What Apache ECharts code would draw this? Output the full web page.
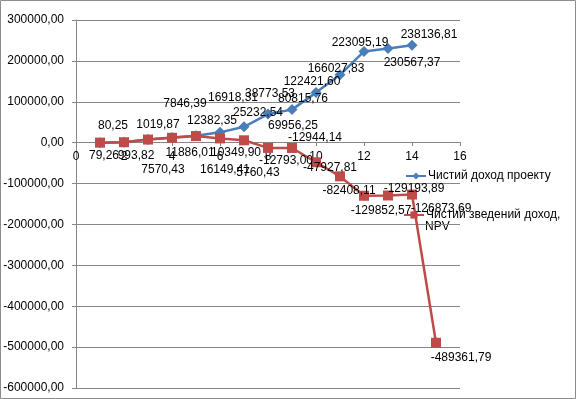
<!DOCTYPE html>
<html>
<head>
<meta charset="utf-8">
<script src="https://cdn.jsdelivr.net/npm/echarts@6/dist/echarts.min.js"></script>
<style>
  html, body { margin: 0; padding: 0; background: #fff; }
  #chart { width: 576px; height: 399px; }
</style>
</head>
<body>
<div id="chart"></div>
<script>
// роки проекту
var years = [1, 2, 3, 4, 5, 6, 7, 8, 9, 10, 11, 12, 13, 14, 15];

// Чистий доход проекту
var incomeValues = [80.25, 1019.87, 7846.39, 12382.35, 16918.31, 25232.54, 38773.53,
    69956.25, 80815.76, 122421.60, 166027.83, 223095.19, 230567.37, 238136.81];

// Чистий зведений доход, NPV
var npvValues = [79.26, 993.82, 7570.43, 11886.01, 16149.41, 10349.90, 5760.43,
    -12793.00, -12944.14, -47927.81, -82408.11, -129852.57, -129193.89, -126873.69, -489361.79];

var incomeName = 'Чистий доход проекту';
var npvName = 'Чистий зведений доход, NPV';

// зсув підписів (як вони стоять на картинці)
var incomeLabelShift = [[13, -17], [34, -18], [37, -36], [40, -17], [37, -38], [38, -20], [26, -33],
    [25, 12], [11, -11], [-4, -11], [-4, -6], [-4, -9], [24, 14], [17, -11]];
var npvLabelShift = [[4, 13], [12, 13], [15, 30], [18, 15], [29, 34], [16, 14], [14, 32],
    [18, 13], [23, -10], [14, 5], [9, 14], [17, 15], [26, -7], [29, 14], [25, 15]];

function fmt(v) {
    return v.toFixed(2).replace('.', ',');
}

function buildData(values, shifts) {
    var out = [];
    for (var i = 0; i < values.length; i++) {
        out.push({
            value: [years[i], values[i]],
            label: { offset: shifts[i] }
        });
    }
    return out;
}

var font = 'Liberation Sans, Arial, sans-serif';
var myChart = echarts.init(document.getElementById('chart'));

var option = {
    animation: false,
    backgroundColor: '#fff',
    grid: [
        { left: 76, right: 116, top: 20, bottom: 11 },
        // друга сітка тільки для осі X, що йде через нуль
        { left: 76, right: 116, top: 20, height: 122 }
    ],
    xAxis: [
        {
            type: 'value', gridIndex: 0, min: 0, max: 16, interval: 2,
            axisLine: { show: false }, axisTick: { show: false },
            axisLabel: { show: false }, splitLine: { show: false }
        },
        {
            type: 'value', gridIndex: 1, min: 0, max: 16, interval: 2,
            axisLine: { show: true, onZero: false, lineStyle: { color: '#868686', width: 1 } },
            axisTick: { show: true, length: 4, lineStyle: { color: '#868686' } },
            axisLabel: { color: '#000', fontSize: 12, fontFamily: font, margin: 9 },
            splitLine: { show: false }
        }
    ],
    yAxis: [
        {
            type: 'value', gridIndex: 0, min: -600000, max: 300000, interval: 100000,
            axisLine: { show: true, onZero: false, lineStyle: { color: '#868686', width: 1 } },
            axisTick: { show: true, length: 4, lineStyle: { color: '#868686' } },
            axisLabel: {
                color: '#000', fontSize: 12, fontFamily: font, margin: 12,
                formatter: function (v) { return fmt(v); }
            },
            splitLine: { show: true, lineStyle: { color: '#868686', width: 1 } }
        },
        {
            type: 'value', gridIndex: 1, min: 0, max: 300000, show: false,
            splitLine: { show: false }
        }
    ],
    legend: [
        {
            data: [incomeName],
            left: 400,
            top: 165,
            itemWidth: 20,
            itemHeight: 9,
            textStyle: { color: '#000', fontSize: 12, fontFamily: font, padding: [0, 0, 0, -3] }
        },
        {
            data: [npvName],
            left: 398,
            top: 204,
            itemWidth: 20,
            itemHeight: 9,
            formatter: function () { return 'Чистий зведений доход,'; },
            textStyle: { color: '#000', fontSize: 12, fontFamily: font, padding: [0, 0, 0, -3] }
        }
    ],
    graphic: [
        {
            type: 'text',
            left: 425,
            top: 221,
            style: { text: 'NPV', fill: '#000', font: '12px ' + font }
        },
        {
            type: 'rect',
            shape: { x: 0.5, y: 0.5, width: 575, height: 398 },
            style: { fill: 'none', stroke: '#8c8c8c', lineWidth: 1 },
            silent: true
        }
    ],
    series: [
        {
            name: incomeName,
            type: 'line',
            xAxisIndex: 0,
            yAxisIndex: 0,
            data: buildData(incomeValues, incomeLabelShift),
            symbol: 'diamond',
            symbolSize: 11,
            itemStyle: { color: '#4A7EBB' },
            lineStyle: { color: '#4A7EBB', width: 2.5 },
            label: {
                show: true,
                position: 'inside',
                color: '#000',
                fontSize: 12,
                fontFamily: font,
                formatter: function (p) { return fmt(p.value[1]); }
            },
            z: 2
        },
        {
            name: npvName,
            type: 'line',
            xAxisIndex: 0,
            yAxisIndex: 0,
            data: buildData(npvValues, npvLabelShift),
            symbol: 'rect',
            symbolSize: 10,
            itemStyle: { color: '#BE4B48' },
            lineStyle: { color: '#BE4B48', width: 2.5 },
            label: {
                show: true,
                position: 'inside',
                color: '#000',
                fontSize: 12,
                fontFamily: font,
                formatter: function (p) { return fmt(p.value[1]); }
            },
            z: 3
        }
    ]
};

myChart.setOption(option);
</script>
</body>
</html>
